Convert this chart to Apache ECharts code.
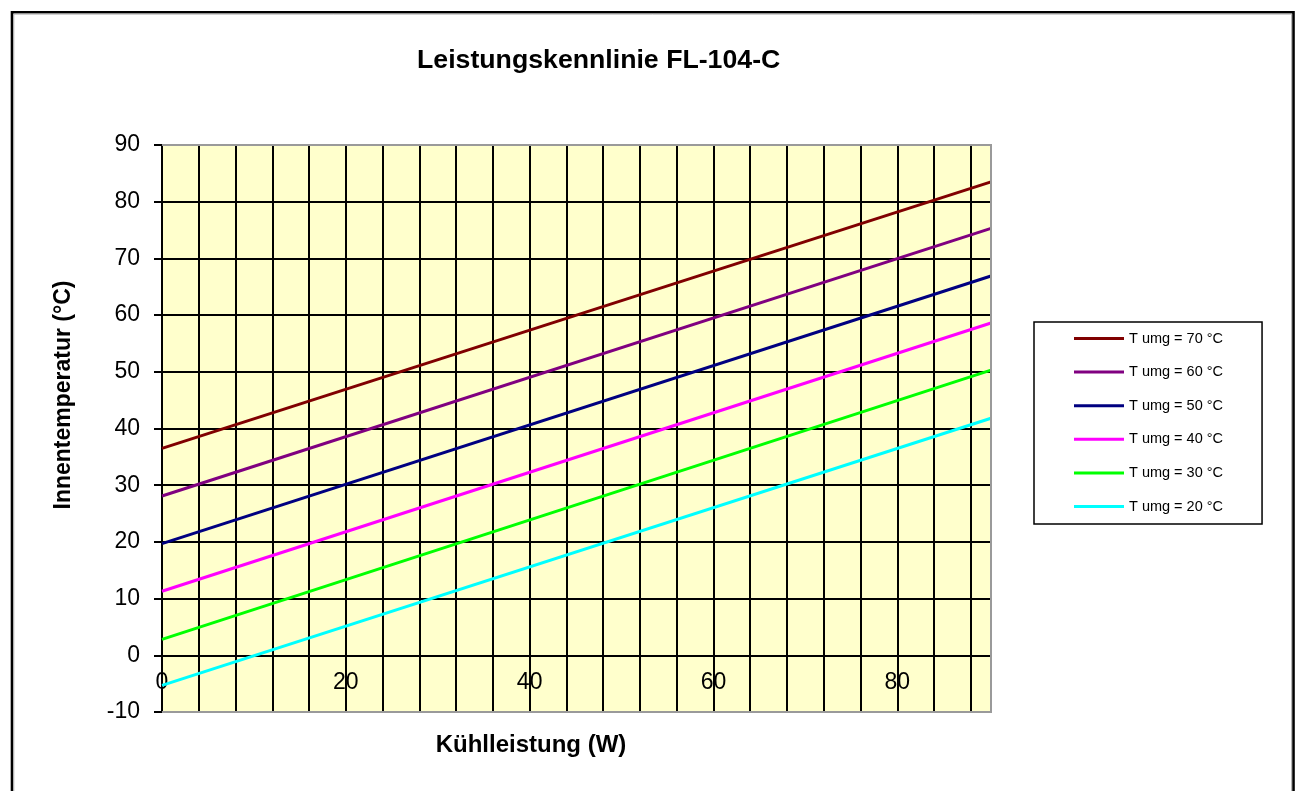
<!DOCTYPE html>
<html>
<head>
<meta charset="utf-8">
<script src="https://cdn.jsdelivr.net/npm/echarts@6/dist/echarts.min.js"></script>
<style>
html,body{margin:0;padding:0;background:#fff;}
#chart{width:1300px;height:791px;}
</style>
</head>
<body>
<div id="chart"></div>
<script>
// ---- data ----
const chartTitle = 'Leistungskennlinie FL-104-C';
const xName = 'Kühlleistung (W)';
const yName = 'Innentemperatur (°C)';
const xPoints = [0, 90.2];               // Kühlleistung (W) at line ends
const seriesNames = ['T umg = 70 °C', 'T umg = 60 °C', 'T umg = 50 °C', 'T umg = 40 °C', 'T umg = 30 °C', 'T umg = 20 °C'];
const t70 = [36.5, 83.5];
const t60 = [28.1, 75.3];
const t50 = [19.7, 66.9];
const t40 = [11.3, 58.6];
const t30 = [2.8, 50.3];
const t20 = [-5.3, 41.8];
const seriesColors = ['#800000', '#800080', '#000080', '#FF00FF', '#00FF00', '#00FFFF'];
const xMin = 0, xMax = 90.2, xGridStep = 4, xLabelStep = 20;
const yMin = -10, yMax = 90, yStep = 10;

const allValues = [t70, t60, t50, t40, t30, t20];
const FONT = '"Liberation Sans", Arial, sans-serif';

const GRID = {left: 162, right: 309, top: 145, bottom: 79};
const gridHeight = 791 - GRID.top - GRID.bottom;
// x axis sits on y = 0: shift it up from the bottom of the plot
const xAxisOffset = -((0 - yMin) / (yMax - yMin)) * gridHeight;

const chart = echarts.init(document.getElementById('chart'), null, {renderer: 'canvas'});

const series = seriesNames.map((name, i) => ({
  name: name,
  type: 'line',
  data: xPoints.map((x, j) => [x, allValues[i][j]]),
  showSymbol: false,
  symbol: 'none',
  color: seriesColors[i],
  lineStyle: {width: 3, color: seriesColors[i]},
  clip: true,
  z: 3
}));

const option = {
  animation: false,
  backgroundColor: '#ffffff',
  textStyle: {fontFamily: FONT},
  title: {
    text: chartTitle,
    left: 412,
    top: 42,
    textStyle: {fontFamily: FONT, fontWeight: 'bold', fontSize: 26.7, color: '#000'}
  },
  legend: {
    orient: 'vertical',
    left: 1034,
    top: 322,
    icon: 'rect',
    itemWidth: 50,
    itemHeight: 3,
    itemGap: 18.6,
    padding: [9, 39, 10, 40],
    borderColor: '#000',
    borderWidth: 1.5,
    backgroundColor: '#fff',
    textStyle: {fontFamily: FONT, fontSize: 14.5, color: '#000'},
    data: seriesNames
  },
  grid: {
    left: GRID.left,
    right: GRID.right,
    top: GRID.top,
    bottom: GRID.bottom,
    outerBoundsMode: 'none',
    containLabel: false,
    show: true,
    backgroundColor: '#FFFFCC',
    borderWidth: 0
  },
  xAxis: {
    type: 'value',
    min: xMin,
    max: xMax,
    interval: xGridStep,
    offset: xAxisOffset,
    name: xName,
    nameLocation: 'middle',
    nameGap: 78,
    nameTextStyle: {fontFamily: FONT, fontWeight: 'bold', fontSize: 24, color: '#000', padding: [0, 91, 0, 0]},
    axisLine: {show: true, onZero: false, lineStyle: {color: '#000', width: 2}},
    axisTick: {show: false},
    axisLabel: {
      margin: 16,
      fontFamily: FONT,
      fontSize: 23,
      color: '#000',
      showMaxLabel: false,
      formatter: v => (Math.abs(v % xLabelStep) < 1e-9 ? String(v) : '')
    },
    splitLine: {show: true, lineStyle: {color: '#000', width: 2}}
  },
  yAxis: {
    type: 'value',
    min: yMin,
    max: yMax,
    interval: yStep,
    name: yName,
    nameLocation: 'middle',
    nameGap: 87,
    nameTextStyle: {fontFamily: FONT, fontWeight: 'bold', fontSize: 23, color: '#000', padding: [0, 0, 0, 67]},
    axisLine: {show: true, onZero: false, lineStyle: {color: '#000', width: 2}},
    axisTick: {show: true, inside: false, length: 8, lineStyle: {color: '#000', width: 2}},
    axisLabel: {margin: 22, fontFamily: FONT, fontSize: 23, color: '#000'},
    splitLine: {show: true, lineStyle: {color: '#000', width: 2}}
  },
  series: series
};

chart.setOption(option);

// decorative frame: gray plot border (top/right/bottom) and outer chart border
const p0 = chart.convertToPixel({gridIndex: 0}, [xMin, yMin]);
const p1 = chart.convertToPixel({gridIndex: 0}, [xMax, yMax]);
chart.setOption({
  graphic: [
    {
      type: 'polyline',
      z: 100,
      silent: true,
      shape: {points: [[p0[0], p1[1]], [p1[0], p1[1]], [p1[0], p0[1]], [p0[0], p0[1]]]},
      style: {stroke: '#9a9a9a', lineWidth: 2, fill: null}
    },
    {
      type: 'rect',
      z: 100,
      silent: true,
      shape: {x: 12, y: 12.3, width: 1281.5, height: 900},
      style: {stroke: '#000', lineWidth: 2.6, fill: null}
    },
    {
      type: 'rect',
      z: 100,
      silent: true,
      shape: {x: 13.8, y: 14.1, width: 1277.8, height: 900},
      style: {stroke: '#b0b0b0', lineWidth: 1, fill: null}
    }
  ]
});
</script>
</body>
</html>
